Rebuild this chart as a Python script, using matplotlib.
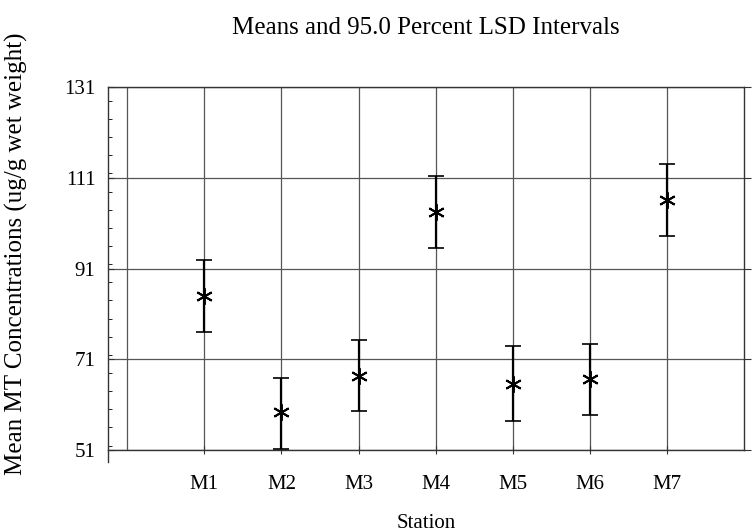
import numpy as np
import matplotlib
matplotlib.use("Agg")
import matplotlib.pyplot as plt
from matplotlib.ticker import MultipleLocator, FixedLocator

# station means with 95% LSD interval limits
stations = ["M1", "M2", "M3", "M4", "M5", "M6", "M7"]
means = [84.9, 59.3, 67.4, 103.6, 65.6, 66.6, 106.1]
lower = [77.1, 51.2, 59.6, 95.5, 57.3, 58.8, 98.1]
upper = [92.8, 67.0, 75.2, 111.4, 73.9, 74.3, 114.0]
y_ticks = [51, 71, 91, 111, 131]

plt.rcParams["font.family"] = ["Liberation Serif", "DejaVu Serif"]

fig = plt.figure(figsize=(7.54, 5.32), dpi=100)
ax = fig.add_axes([0.1432, 0.154, 0.8435, 0.682])

x = np.arange(1, len(stations) + 1)
m = np.array(means)
err = np.vstack([m - np.array(lower), np.array(upper) - m])

ax.errorbar(x, m, yerr=err, fmt="none", ecolor="black", elinewidth=1.6,
            capsize=5.5, capthick=1.2, zorder=3)
# asterisk markers
ax.plot(x, m, linestyle="none", marker=(6, 2, 0), markersize=12,
        color="black", markeredgewidth=1.4, zorder=4)

ax.set_xlim(-0.25, 8)
ax.set_ylim(51, 131)

ax.xaxis.set_major_locator(FixedLocator(x))
ax.set_xticklabels(stations)
ax.xaxis.set_minor_locator(FixedLocator(np.arange(0, 8)))
ax.yaxis.set_major_locator(FixedLocator(y_ticks))
ax.yaxis.set_minor_locator(MultipleLocator(4))

grid_kw = dict(color="#555555", linewidth=0.9)
ax.grid(True, which="minor", axis="x", **grid_kw)
ax.grid(True, which="major", axis="both", **grid_kw)

ax.tick_params(axis="y", which="major", labelsize=15, length=4,
               direction="in", pad=9, right=True, color="#333333")
ax.tick_params(axis="y", which="minor", length=3, direction="in", right=False)
ax.tick_params(axis="x", which="major", labelsize=15, length=6,
               direction="inout", pad=15, color="#333333")
ax.tick_params(axis="x", which="minor", length=0)
ax.yaxis.set_tick_params(which="major", labelright=False)
for t in ax.yaxis.get_major_ticks():
    t.tick2line.set_marker(matplotlib.markers.TICKRIGHT)
    t.tick2line.set_markersize(5)

for s in ax.spines.values():
    s.set_color("#333333")
    s.set_linewidth(1.0)
ax.spines["left"].set_bounds(48.4, 131)

ax.set_title("Means and 95.0 Percent LSD Intervals", fontsize=18, pad=38)
ax.set_xlabel("Station", fontsize=15, labelpad=14)
ax.set_ylabel("Mean MT Concentrations (ug/g wet weight)", fontsize=18)
ax.yaxis.set_label_coords(-0.125, 0.54)

plt.savefig("out.png", dpi=100)
plt.close()
